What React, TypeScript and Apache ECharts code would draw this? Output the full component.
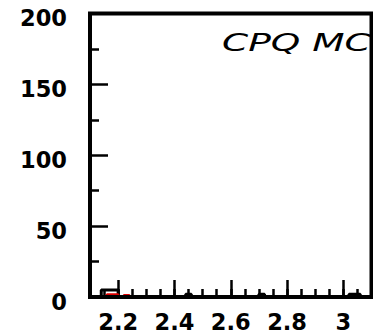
import React, { useEffect, useRef } from "react";
import * as echarts from "echarts";

// Histogram binning (x in the variable's units)
const binStart = 2.1;
const binWidth = 0.02;

// Black histogram counts, 50 bins from 2.10 to 3.10
const blackCounts = [
  0, 0, 5, 5, 5, 0, 0, 0, 0, 0,
  0, 0, 0, 0, 0, 0, 0, 2, 0, 0,
  0, 0, 0, 0, 0, 0, 0, 0, 0, 0,
  2, 0, 0, 0, 0, 0, 0, 0, 0, 0,
  0, 0, 0, 0, 0, 0, 2, 2, 0, 0,
];

// Red histogram counts, same binning
const redCounts = [
  0, 0, 0, 1.5, 1.5, 0, 1, 0, 0, 0,
  0, 0, 0, 0, 0, 0, 0, 0, 0, 0,
  0, 0, 0, 0, 0, 0, 0, 0, 0, 0,
  0, 0, 0, 0, 0, 0, 0, 0, 0, 0,
  0, 0, 0, 0, 0, 0, 0, 0, 0, 0,
];

const xMin = 2.1;
const xMax = 3.1;
const yMin = 0;
const yMax = 200;
const yInterval = 50;
const titleText = "CPQ MC";

function stepData(counts: number[]) {
  const pts: [number, number][] = counts.map((c, i) => [
    +(binStart + i * binWidth).toFixed(4),
    c,
  ]);
  pts.push([+(binStart + counts.length * binWidth).toFixed(4), counts[counts.length - 1]]);
  return pts;
}

export default function App() {
  const ref = useRef<HTMLDivElement>(null);
  useEffect(() => {
    if (!ref.current) return;
    const chart = echarts.init(ref.current, null, { renderer: "svg" });
    const labelFont = {
      fontFamily: "DejaVu Sans",
      fontWeight: "bold" as const,
      fontSize: 22.5,
      color: "#000",
    };
    chart.setOption({
      animation: false,
      backgroundColor: "#fff",
      grid: {
        left: 90,
        right: 1.5,
        top: 13.5,
        bottom: 38,
        show: true,
        borderColor: "#000",
        borderWidth: 4,
        z: 5,
      },
      graphic: [
        {
          type: "text",
          x: 222,
          y: 30,
          scaleX: 1.5,
          z: -10,
          style: {
            text: titleText,
            fontFamily: "DejaVu Sans",
            fontStyle: "italic",
            fontSize: 25,
            fill: "#000",
            textVerticalAlign: "top",
          },
        },
      ],
      xAxis: [
        {
          type: "value",
          min: xMin,
          max: xMax,
          splitNumber: 5,
          axisLine: { show: false },
          splitLine: { show: false },
          axisTick: {
            show: true,
            inside: true,
            length: 17,
            lineStyle: { color: "#000", width: 2.5 },
          },
          axisLabel: {
            ...labelFont,
            margin: 13,
            showMinLabel: false,
            showMaxLabel: false,
          },
        },
        {
          type: "value",
          min: xMin,
          max: xMax,
          interval: 0.05,
          position: "bottom",
          axisLine: { show: false },
          splitLine: { show: false },
          axisLabel: { show: false },
          axisTick: {
            show: true,
            inside: true,
            length: 8,
            lineStyle: { color: "#000", width: 2.5 },
          },
        },
      ],
      yAxis: {
        type: "value",
        min: yMin,
        max: yMax,
        interval: yInterval,
        axisLine: { show: false },
        splitLine: { show: false },
        axisTick: {
          show: true,
          inside: true,
          length: 18,
          lineStyle: { color: "#000", width: 2.5 },
        },
        minorTick: {
          show: true,
          splitNumber: 2,
          length: 9,
          lineStyle: { color: "#000", width: 2.5 },
        },
        axisLabel: {
          ...labelFont,
          margin: 23,
          verticalAlign: "top",
          lineHeight: 9,
        },
      },
      series: [
        {
          type: "line",
          xAxisIndex: 0,
          step: "end",
          symbol: "none",
          data: stepData(blackCounts),
          lineStyle: { color: "#000", width: 3 },
          z: 2,
        },
        {
          type: "line",
          xAxisIndex: 0,
          step: "end",
          symbol: "none",
          data: stepData(redCounts),
          lineStyle: { color: "#e00000", width: 3 },
          z: 3,
        },
      ],
    });
    return () => chart.dispose();
  }, []);
  return (
    <div
      ref={ref}
      style={{ position: "absolute", left: 0, top: 0, width: 373, height: 335, overflow: "hidden" }}
    />
  );
}
